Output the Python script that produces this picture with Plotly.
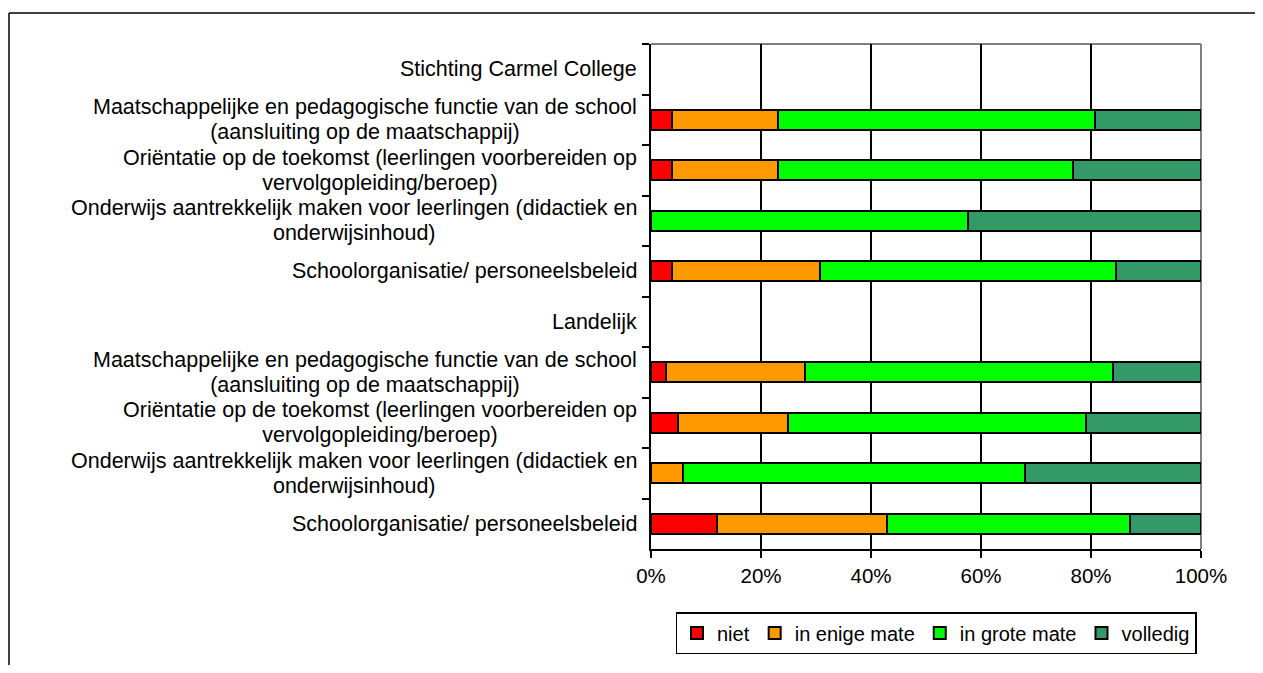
import plotly.graph_objects as go

# ---- data ----
groups = ["Stichting Carmel College", "Landelijk"]
items = [
    "Maatschappelijke en pedagogische functie van de school<br>(aansluiting op de maatschappij)",
    "Oriëntatie op de toekomst (leerlingen voorbereiden op<br>vervolgopleiding/beroep)",
    "Onderwijs aantrekkelijk maken voor leerlingen (didactiek en<br>onderwijsinhoud)",
    "Schoolorganisatie/ personeelsbeleid",
]
series = ["niet", "in enige mate", "in grote mate", "volledig"]
colors = ["#FF0000", "#FF9900", "#00FF00", "#339966"]

carmel_niet = [3.8, 3.8, 0, 3.8]
carmel_enige = [19.2, 19.2, 0, 26.9]
carmel_grote = [57.7, 53.8, 57.7, 53.8]
carmel_volledig = [19.3, 23.2, 42.3, 15.5]

landelijk_niet = [2.8, 4.9, 0, 12.0]
landelijk_enige = [25.2, 20.0, 5.8, 30.9]
landelijk_grote = [56.0, 54.2, 62.2, 44.2]
landelijk_volledig = [16.0, 20.9, 32.0, 12.9]

x_ticks = [0, 20, 40, 60, 80, 100]
grid_vals = [20, 40, 60, 80]

# ---- build rows ----
row_labels = [groups[0]] + items + [groups[1]] + items
row_ids = [f"r{i}" for i in range(len(row_labels))]

carmel = [carmel_niet, carmel_enige, carmel_grote, carmel_volledig]
landelijk = [landelijk_niet, landelijk_enige, landelijk_grote, landelijk_volledig]

FONT = "Liberation Sans, Arial, sans-serif"

fig = go.Figure()
for s, name in enumerate(series):
    vals = [None] + carmel[s] + [None] + landelijk[s]
    vals = [v if v else None for v in vals]
    fig.add_trace(go.Bar(
        y=row_ids, x=vals, name=name, orientation="h",
        marker=dict(color=colors[s], line=dict(color="black", width=2)),
        hoverinfo="x+name",
    ))

# labels (centered wrapped text, right side aligned to axis)
SPAN = "<span style='font-size:21.5px'>"
for i, lab in enumerate(row_labels):
    fig.add_annotation(
        x=0, xref="paper", y=i, yref="y",
        text=SPAN + lab.replace("<br>", "</span><br>" + SPAN) + "</span>",
        showarrow=False,
        xanchor="right", yanchor="middle", xshift=-12, align="center",
        font=dict(family=FONT, size=19.5, color="black"),
    )

W, H = 1247, 657
# page px -> paper
def px(x):
    return (x - 651) / 550.0
def py(y):
    return (550 - y) / 506.0

shapes = [
    # gray plot border top & right
    dict(type="line", xref="paper", yref="paper", x0=0, x1=1, y0=1, y1=1,
         line=dict(color="#808080", width=2), layer="below"),
    dict(type="line", xref="paper", yref="paper", x0=1, x1=1, y0=0, y1=1,
         line=dict(color="#808080", width=2), layer="below"),
    # outer chart frame
    dict(type="line", xref="paper", yref="paper", x0=px(9), x1=px(1300), y0=py(13), y1=py(13),
         line=dict(color="black", width=1.5)),
    dict(type="line", xref="paper", yref="paper", x0=px(9), x1=px(9), y0=py(13), y1=py(700),
         line=dict(color="black", width=1.5)),
]

fig.update_layout(
    width=W, height=H,
    margin=dict(l=643, r=W - 1193, t=36, b=H - 542, pad=0),
    barmode="stack", bargap=0.6,
    paper_bgcolor="white", plot_bgcolor="white",
    font=dict(family=FONT, size=20, color="black"),
    showlegend=True,
    legend=dict(
        orientation="h", x=px(936), xanchor="center", y=py(612), yanchor="top",
        bordercolor="black", borderwidth=1.5, bgcolor="white",
        font=dict(family=FONT, size=20, color="black"),
        itemwidth=30, traceorder="normal",
    ),
    shapes=shapes,
)

fig.update_xaxes(
    range=[0, 100], tickvals=x_ticks, ticktext=[f"{t}%" for t in x_ticks],
    showgrid=False,
    minor=dict(tickvals=grid_vals, showgrid=True, gridcolor="black", gridwidth=1.5, ticks=""),
    showline=True, linecolor="black", linewidth=2,
    ticks="outside", ticklen=7, tickcolor="black", tickwidth=2,
    zeroline=False, fixedrange=True,
    tickfont=dict(family=FONT, size=20.5, color="black"),
)
fig.update_yaxes(
    type="category", categoryorder="array", categoryarray=row_ids,
    autorange="reversed",
    showticklabels=False, tickson="boundaries",
    ticks="outside", ticklen=7, tickcolor="black", tickwidth=2,
    showline=True, linecolor="black", linewidth=2,
    showgrid=False, zeroline=False, fixedrange=True,
)

fig.write_html("out.html")
